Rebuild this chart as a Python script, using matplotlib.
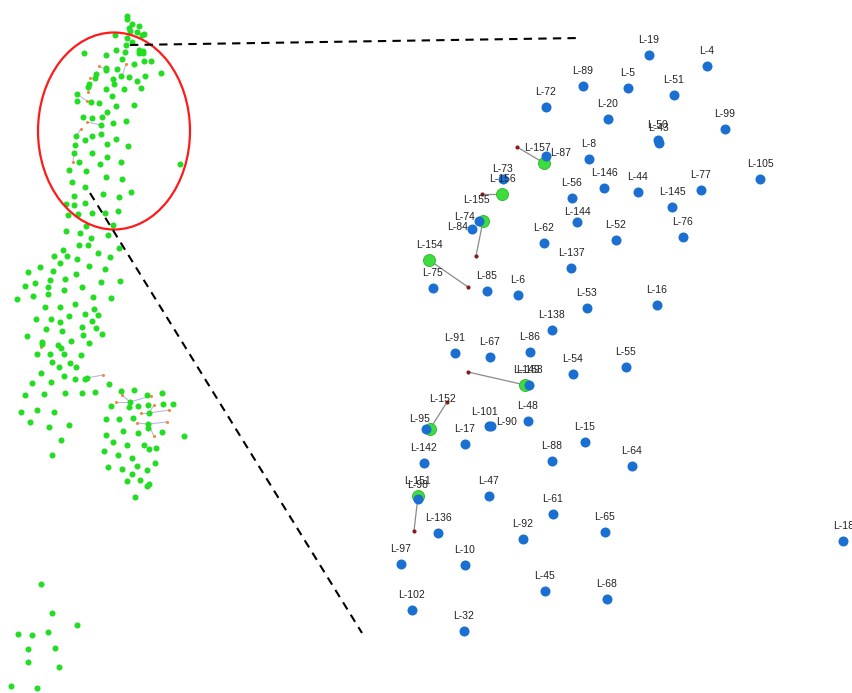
import matplotlib
matplotlib.use("Agg")
import matplotlib.pyplot as plt
from matplotlib.patches import Ellipse

plt.rcParams['font.family'] = ['Liberation Sans', 'DejaVu Sans']

# =================================================================
# DATA (image coordinates, y grows downward)
# =================================================================
# overview panel: green nodes
overview_x = [127, 127, 132, 139, 129, 130, 137, 142, 144, 115, 127, 132, 126, 125, 139, 143,
              139, 143, 116, 84, 106, 122, 144, 151, 134, 106, 106, 117, 96, 95, 113, 121,
              129, 145, 161, 137, 89, 88, 114, 141, 124, 106, 112, 77, 77, 91, 99, 116,
              134, 107, 83, 92, 102, 101, 113, 126, 76, 85, 92, 101, 116, 107, 128, 75,
              74, 92, 107, 79, 100, 121, 180, 69, 86, 106, 122, 72, 85, 131, 103, 74,
              119, 66, 74, 85, 92, 105, 118, 68, 78, 86, 113, 66, 80, 91, 108,
              79, 88, 119, 63, 98, 54, 67, 77, 110, 60, 40, 89, 28, 53, 105, 76,
              50, 65, 35, 101, 120, 25, 48, 82, 64, 33, 17, 48, 93, 111, 45, 60,
              75, 94, 36, 51, 69, 85, 98, 60, 92, 46, 62, 82, 96, 27, 83, 102,
              42, 42, 58, 71, 89, 61, 37, 50, 64, 81, 52, 70, 59, 76, 41, 64,
              75, 85, 87, 32, 51, 109, 25, 44, 65, 82, 95, 121, 134, 147, 162, 130,
              129, 111, 138, 148, 163, 173, 21, 37, 54, 149, 30, 49, 69, 106, 119, 133,
              148, 148, 162, 184, 123, 138, 106, 61, 113, 127, 144, 149, 156, 104, 52, 118,
              132, 155, 108, 122, 137, 147, 132, 127, 140, 149, 147, 135,
              41, 52, 77, 18, 32, 48, 28, 55, 28, 59, 11, 37]
overview_y = [16, 19, 24, 26, 28, 31, 32, 35, 34, 35, 38, 42, 45, 52, 50, 51,
              53, 53, 50, 53, 55, 59, 61, 61, 64, 68, 70, 69, 74, 78, 79, 76,
              77, 76, 73, 81, 84, 87, 84, 88, 89, 89, 96, 94, 101, 102, 103, 106,
              105, 112, 117, 118, 117, 125, 123, 121, 136, 140, 136, 134, 139, 144, 146, 145,
              153, 153, 157, 162, 164, 162, 164, 170, 171, 177, 179, 182, 187, 192, 194, 196,
              197, 204, 205, 203, 213, 213, 211, 215, 214, 226, 225, 231, 233, 238, 235,
              245, 245, 248, 250, 253, 256, 256, 259, 257, 263, 267, 266, 272, 271, 269, 274,
              280, 279, 283, 282, 281, 286, 287, 287, 290, 296, 299, 294, 297, 298, 307, 307,
              304, 309, 319, 319, 316, 314, 315, 322, 321, 329, 331, 327, 328, 336, 335, 334,
              342, 344, 345, 341, 343, 348, 354, 354, 354, 355, 362, 363, 367, 367, 373, 376,
              379, 379, 378, 383, 382, 384, 395, 394, 393, 393, 392, 391, 390, 395, 393, 402,
              407, 406, 406, 405, 404, 404, 412, 410, 412, 413, 422, 427, 425, 419, 419, 418,
              424, 428, 432, 436, 431, 433, 435, 440, 442, 445, 445, 449, 448, 451, 455, 455,
              458, 463, 467, 469, 466, 470, 474, 481, 480, 484, 486, 497,
              584, 613, 625, 634, 635, 632, 649, 648, 662, 667, 686, 688]

# overview panel: small orange nodes and their links (from, to)
link_from_x = [106, 122, 95, 89, 77, 101, 76, 74, 87, 42, 130, 130, 130, 149, 149, 149, 148, 148, 148]
link_from_y = [70, 76, 78, 84, 94, 125, 136, 153, 378, 344, 402, 402, 402, 413, 413, 413, 424, 424, 424]
link_to_x = [99, 126, 90, 88, 87, 87, 81, 73, 103, 41, 116, 122, 151, 141, 154, 169, 137, 167, 154]
link_to_y = [66, 64, 78, 92, 101, 122, 129, 162, 375, 347, 402, 395, 396, 413, 405, 410, 423, 422, 436]

# zoomed panel: blue nodes
blue_names = ['L-19', 'L-4', 'L-89', 'L-5', 'L-51', 'L-72', 'L-20', 'L-50', 'L-43', 'L-99',
              'L-87', 'L-8', 'L-105', 'L-73', 'L-146', 'L-44', 'L-77', 'L-56', 'L-145', 'L-144',
              'L-74', 'L-84', 'L-76', 'L-52', 'L-62', 'L-137', 'L-75', 'L-85', 'L-6', 'L-16',
              'L-53', 'L-138', 'L-91', 'L-86', 'L-67', 'L-55', 'L-54', 'L-153', 'L-95', 'L-101',
              'L-90', 'L-48', 'L-17', 'L-15', 'L-142', 'L-88', 'L-64', 'L-47', 'L-98', 'L-61',
              'L-136', 'L-65', 'L-92', 'L-18', 'L-97', 'L-10', 'L-45', 'L-68', 'L-102', 'L-32']
blue_x = [649, 707, 583, 628, 674, 546, 608, 658, 659, 725,
          546, 589, 760, 503, 604, 638, 701, 572, 672, 577,
          479, 472, 683, 616, 544, 571, 433, 487, 518, 657,
          587, 552, 455, 530, 490, 626, 573, 529, 426, 489,
          491, 528, 465, 585, 424, 552, 632, 489, 418, 553,
          438, 605, 523, 843, 401, 465, 545, 607, 412, 464]
blue_y = [55, 66, 86, 88, 95, 107, 119, 140, 143, 129,
          156, 159, 179, 179, 188, 192, 190, 198, 207, 222,
          221, 229, 237, 240, 243, 268, 288, 291, 295, 305,
          308, 330, 353, 352, 357, 367, 374, 385, 429, 426,
          426, 421, 444, 442, 463, 461, 466, 496, 499, 514,
          533, 532, 539, 541, 564, 565, 591, 599, 610, 631]

# zoomed panel: green nodes with their dark red partner
green_names = ['L-157', 'L-156', 'L-155', 'L-154', 'L-149', 'L-152', 'L-151']
green_x = [544, 502, 483, 429, 525, 430, 418]
green_y = [163, 194, 221, 260, 385, 429, 496]
partner_x = [517, 482, 476, 468, 468, 447, 414]
partner_y = [147, 194, 256, 287, 372, 402, 531]

# label offsets that differ from the default (0, -15)
label_offsets = {
    'L-87': (15, -3), 'L-73': (0, -10), 'L-144': (0, -10), 'L-74': (-14, -4),
    'L-84': (-14, -2), 'L-95': (-6, -10), 'L-101': (-4, -14), 'L-90': (16, -4),
    'L-153': (0, -15), 'L-98': (0, -14), 'L-157': (-7, -15), 'L-155': (-7, -21),
    'L-149': (2, -15), 'L-152': (13, -30), 'L-151': (0, -15), 'L-18': (1, -15),
}

# =================================================================
# FIGURE
# =================================================================
fig = plt.figure(figsize=(8.53, 6.93), dpi=100)
ax = fig.add_axes([0, 0, 1, 1])
ax.set_xlim(0, 853)
ax.set_ylim(693, 0)
ax.axis('off')

# overview panel
for x0, y0, x1, y1 in zip(link_from_x, link_from_y, link_to_x, link_to_y):
    ax.plot([x0, x1], [y0, y1], color='#b8b8e6', linewidth=0.8, zorder=1)
ax.scatter(link_to_x, link_to_y, s=5, color='#f08a3c', zorder=2, linewidths=0)
ax.scatter(overview_x, overview_y, s=19, color='#22dd22', zorder=3, linewidths=0)

ax.add_patch(Ellipse((114, 131), 152, 197, facecolor='none', edgecolor='#ff1a1a',
                     linewidth=1.6, zorder=4))

# zoom connectors
ax.plot([130, 580], [45, 38], color='black', linewidth=1.5, dashes=(4, 3), zorder=5)
ax.plot([90, 362], [193, 633], color='black', linewidth=1.5, dashes=(4, 3), zorder=5)

# zoomed panel
for gx, gy, px, py in zip(green_x, green_y, partner_x, partner_y):
    ax.plot([gx, px], [gy, py], color='#8a8a8a', linewidth=0.9, zorder=6)
ax.scatter(partner_x, partner_y, s=9, color='#8b1a1a', zorder=7, linewidths=0)
ax.scatter(green_x, green_y, s=75, color='#3fdc3f', edgecolors='#2bb52b',
           linewidths=0.6, zorder=8)
ax.scatter(blue_x, blue_y, s=52, color='#1a6fd1', zorder=9, linewidths=0)

for name, x, y in list(zip(blue_names, blue_x, blue_y)) + list(zip(green_names, green_x, green_y)):
    dx, dy = label_offsets.get(name, (0, -15))
    ax.text(x + dx, y + dy, name, fontsize=7.5, color='#222222',
            ha='center', va='center', zorder=10)

fig.savefig('out.png', dpi=100)
